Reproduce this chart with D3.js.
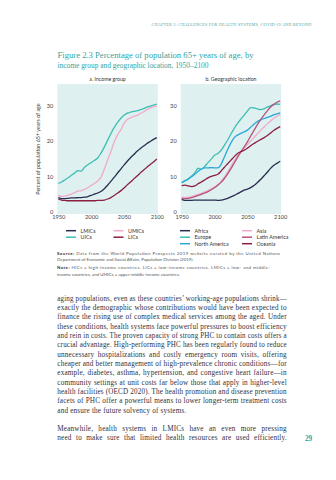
<!DOCTYPE html>
<html>
<head>
<meta charset="utf-8">
<script src="https://cdn.jsdelivr.net/npm/d3@7/dist/d3.min.js"></script>
<style>
  body { margin: 0; background: #fff; }
  svg { display: block; }
</style>
</head>
<body>
<div id="page"></div>
<script>
// values (percent of population aged 65+)
const years = [1950, 1955, 1960, 1965, 1970, 1975, 1980, 1985, 1990, 1995, 2000, 2005, 2010, 2015, 2020,
  2025, 2030, 2035, 2040, 2045, 2050, 2055, 2060, 2065, 2070, 2075, 2080, 2085, 2090, 2095, 2100]

const lmics = [4.0, 3.7, 3.7, 3.8, 3.9, 3.9, 4.0, 4.0, 4.1, 4.3, 4.6, 5.0, 5.3, 5.7, 6.5,
  7.5, 8.6, 9.7, 10.9, 12.0, 13.2, 14.3, 15.3, 16.2, 17.1, 17.9, 18.6, 19.3, 19.9, 20.5, 21.0]
const uics = [8.0, 8.4, 9.0, 9.6, 10.3, 11.0, 11.6, 11.5, 12.6, 13.3, 13.9, 14.5, 15.2, 16.6, 18.3,
  20.2, 22.1, 23.8, 25.2, 26.4, 27.3, 27.9, 28.2, 28.4, 28.6, 28.9, 29.2, 29.6, 29.9, 30.2, 30.5]
const umics = [4.7, 4.3, 4.4, 4.7, 5.0, 5.4, 5.8, 6.0, 6.3, 6.8, 7.4, 8.0, 8.7, 9.8, 12.0,
  14.6, 17.0, 19.7, 21.7, 23.1, 25.0, 26.1, 26.6, 27.0, 27.3, 27.8, 28.3, 28.9, 29.4, 29.7, 30.0]
const lics = [3.6, 3.3, 3.2, 3.1, 3.1, 3.1, 3.1, 3.1, 3.1, 3.1, 3.1, 3.1, 3.2, 3.2, 3.3,
  3.6, 4.0, 4.6, 5.2, 5.9, 6.7, 7.6, 8.4, 9.3, 10.1, 11.0, 11.8, 12.6, 13.4, 14.1, 14.9]

const africa = [3.5, 3.2, 3.2, 3.2, 3.3, 3.3, 3.3, 3.3, 3.3, 3.3, 3.3, 3.2, 3.3, 3.5, 3.8,
  4.2, 4.6, 5.1, 5.6, 6.1, 6.4, 6.8, 7.4, 8.2, 9.1, 10.1, 11.1, 12.2, 13.1, 13.7, 14.3]
const europe = [8.2, 8.7, 9.3, 10.1, 11.0, 12.3, 12.0, 12.8, 13.9, 14.9, 16.0, 16.5, 17.4, 18.8, 20.3,
  22.0, 23.6, 25.0, 26.2, 27.3, 28.5, 29.5, 29.4, 29.1, 28.9, 29.1, 29.6, 30.0, 30.3, 30.5, 30.4]
const northAmerica = [8.2, 8.8, 9.2, 9.9, 10.6, 11.4, 12.1, 12.4, 12.4, 12.5, 12.4, 12.4, 13.4, 15.5, 17.6,
  19.5, 21.0, 21.7, 22.2, 22.6, 23.1, 23.9, 24.8, 25.5, 26.0, 26.4, 26.7, 27.0, 27.4, 27.7, 28.0]
const asia = [4.2, 4.0, 4.1, 4.3, 4.6, 4.9, 5.2, 5.6, 6.0, 6.5, 7.0, 7.7, 8.6, 9.8, 11.2,
  12.8, 14.4, 15.8, 17.0, 18.0, 19.0, 20.0, 21.0, 22.0, 23.0, 23.9, 24.8, 25.6, 26.4, 27.0, 27.6]
const latinAmerica = [3.8, 3.7, 3.8, 4.0, 4.3, 4.6, 4.9, 5.3, 5.7, 6.2, 6.8, 7.5, 8.3, 9.4, 10.7,
  12.2, 13.8, 15.4, 16.9, 18.3, 19.8, 21.4, 23.0, 24.6, 26.0, 27.3, 28.5, 29.6, 30.4, 31.0, 31.4]
const oceania = [7.4, 7.5, 7.3, 7.1, 7.3, 7.9, 8.4, 9.0, 9.6, 10.0, 10.3, 10.6, 11.5, 12.6, 13.6,
  14.6, 15.6, 16.5, 17.0, 17.4, 18.0, 18.7, 19.3, 19.9, 20.4, 20.9, 21.5, 22.2, 23.0, 23.6, 24.1]

const yTicks = [0, 10, 20, 30]
const xTicks = [1950, 2000, 2050, 2100]

const col = {
  navy: '#2a2d4f', teal: '#3dbfb3', blue: '#2ca8d8',
  pink: '#f2a9cb', mauve: '#b4547f', maroon: '#8a1f42'
}

const incomeSeries = [
  { name: 'LMICs', values: lmics, color: col.navy },
  { name: 'UICs', values: uics, color: col.teal },
  { name: 'UMICs', values: umics, color: col.pink },
  { name: 'LICs', values: lics, color: col.maroon },
]
const geoSeries = [
  { name: 'Africa', values: africa, color: col.navy },
  { name: 'Europe', values: europe, color: col.teal },
  { name: 'North America', values: northAmerica, color: col.blue },
  { name: 'Asia', values: asia, color: col.pink },
  { name: 'Latin America', values: latinAmerica, color: col.mauve },
  { name: 'Oceania', values: oceania, color: col.maroon },
]

const bodyLines = [
  'aging populations, even as these countries\u2019 working-age populations shrink\u2014',
  'exactly the demographic whose contributions would have been expected to',
  'finance the rising use of complex medical services among the aged. Under',
  'these conditions, health systems face powerful pressures to boost efficiency',
  'and rein in costs. The proven capacity of strong PHC to contain costs offers a',
  'crucial advantage. High-performing PHC has been regularly found to reduce',
  'unnecessary hospitalizations and costly emergency room visits, offering',
  'cheaper and better management of high-prevalence chronic conditions\u2014for',
  'example, diabetes, asthma, hypertension, and congestive heart failure\u2014in',
  'community settings at unit costs far below those that apply in higher-level',
  'health facilities (OECD 2020). The health promotion and disease prevention',
  'facets of PHC offer a powerful means to lower longer-term treatment costs',
  'and ensure the future solvency of systems.',
]
const bodyLines2 = [
  'Meanwhile, health systems in LMICs have an even more pressing',
  'need to make sure that limited health resources are used efficiently.',
]

const W = 336, H = 480
const sans = 'Lato, "Noto Sans", sans-serif'
const serif = '"Liberation Serif", "DejaVu Serif", serif'

const svg = d3.select('#page').append('svg')
  .attr('width', W).attr('height', H)

svg.append('rect').attr('width', W).attr('height', H).attr('fill', '#fff')

// stretch a line of text to a given width (justified look)
function fitText(sel, width) {
  const natural = sel.node().getComputedTextLength()
  sel.attr('textLength', width)
    .attr('lengthAdjust', natural > width ? 'spacingAndGlyphs' : 'spacing')
  return sel
}

// justify by widening the word gaps, like the printed page
function justify(sel, width) {
  const natural = sel.node().getComputedTextLength()
  const gaps = (sel.text().match(/ /g) || []).length
  if (natural > width || !gaps) return fitText(sel, width)
  sel.attr('word-spacing', (width - natural) / gaps)
  return sel
}

// running header
fitText(svg.append('text')
  .attr('x', 151.5).attr('y', 26)
  .attr('font-family', serif).attr('font-size', 4.3)
  .attr('fill', '#4fa6a6').attr('letter-spacing', 0.2)
  .text('CHAPTER 2: CHALLENGES FOR HEALTH SYSTEMS, COVID-19 AND BEYOND'), 160)

// figure title
fitText(svg.append('text')
  .attr('x', 57.5).attr('y', 57.5)
  .attr('font-family', serif).attr('font-size', 8.8)
  .attr('fill', '#30a5a2')
  .text('Figure 2.3 Percentage of population 65+ years of age, by'), 196)
fitText(svg.append('text')
  .attr('x', 57.5).attr('y', 68)
  .attr('font-family', serif).attr('font-size', 8.8)
  .attr('fill', '#30a5a2')
  .text('income group and geographic location, 1950\u20132100'), 151)

const y = d3.scaleLinear().domain([0, 36]).range([211.7, 84.6])

function panel(opts) {
  const x = d3.scaleLinear().domain([1950, 2100]).range([opts.left + 1, opts.right - 1])
  const g = svg.append('g')

  g.append('rect')
    .attr('x', opts.left).attr('y', 84)
    .attr('width', opts.right - opts.left).attr('height', 130)
    .attr('fill', '#dff0f0')

  g.append('text')
    .attr('x', (opts.left + opts.right) / 2).attr('y', 81)
    .attr('text-anchor', 'middle')
    .attr('font-family', sans).attr('font-size', 5.2).attr('fill', '#333')
    .text(opts.title)

  const yAxis = d3.axisLeft(y).tickValues(yTicks).tickSize(0).tickPadding(4)
  const xAxis = d3.axisBottom(x).tickValues(xTicks).tickSize(0).tickPadding(0)
    .tickFormat(d3.format('d'))

  const ya = g.append('g').attr('transform', `translate(${opts.left}, 0)`).call(yAxis)
  const xa = g.append('g').attr('transform', `translate(0, 214.5)`).call(xAxis)
  for (const a of [ya, xa]) {
    a.select('.domain').remove()
    a.selectAll('text')
      .attr('font-family', sans).attr('font-size', 5.7).attr('fill', '#444')
  }

  const line = d3.line()
    .x((d, i) => x(years[i]))
    .y(d => y(d))
    .curve(d3.curveMonotoneX)

  g.selectAll('path.series')
    .data(opts.series)
    .join('path')
    .attr('class', 'series')
    .attr('d', d => line(d.values))
    .attr('fill', 'none')
    .attr('stroke', d => d.color)
    .attr('stroke-width', 1.3)
    .attr('stroke-linejoin', 'round')

  // legend, two columns
  const rows = Math.ceil(opts.series.length / 2)
  opts.series.forEach((s, i) => {
    const c = Math.floor(i / rows), r = i % rows
    const lx = opts.legendX[c], ly = 230.7 + r * 6.5
    g.append('line')
      .attr('x1', lx).attr('x2', lx + 10).attr('y1', ly).attr('y2', ly)
      .attr('stroke', s.color).attr('stroke-width', 1.5)
    g.append('text')
      .attr('x', lx + 14.5).attr('y', ly).attr('dy', '0.35em')
      .attr('font-family', sans).attr('font-size', 5.3).attr('fill', '#333')
      .text(s.name)
  })
}

panel({ left: 57.3, right: 157.8, title: 'a. Income group', series: incomeSeries, legendX: [66, 113.5] })
panel({ left: 180.7, right: 281.2, title: 'b. Geographic location', series: geoSeries, legendX: [180, 242] })

// y axis title
svg.append('text')
  .attr('transform', 'translate(39.5, 149) rotate(-90)')
  .attr('text-anchor', 'middle')
  .attr('font-family', sans).attr('font-size', 5.4).attr('fill', '#444')
  .text('Percent of population 65+ years of age')

// source and note
const notes = [
  { y: 254.5, bold: 'Source:', rest: ' Data from the World Population Prospects 2019 website curated by the United Nations', w: 223 },
  { y: 260.8, bold: '', rest: 'Department of Economic and Social Affairs, Population Division (2019).' },
  { y: 269.3, bold: 'Note:', rest: ' HICs = high-income countries, LICs = low-income countries, LMICs = low- and middle-', w: 213 },
  { y: 275.6, bold: '', rest: 'income countries, and UMICs = upper-middle-income countries.' },
]
notes.forEach(n => {
  const t = svg.append('text')
    .attr('x', 57).attr('y', n.y)
    .attr('font-family', sans).attr('font-size', 4.4).attr('fill', '#555')
  if (n.bold) t.append('tspan').attr('font-weight', 700).attr('fill', '#333').text(n.bold)
  t.append('tspan').text(n.rest)
  if (n.w) fitText(t, n.w)
})

// body text; justifyLast for paragraphs whose last line runs full width
function paragraph(lines, top, justifyLast) {
  lines.forEach((s, i) => {
    const t = svg.append('text')
      .attr('x', 57.3).attr('y', top + i * 9.35)
      .attr('font-family', serif).attr('font-size', 7.2).attr('fill', '#30303c')
      .attr('letter-spacing', 0.17)
      .text(s)
    if (i < lines.length - 1 || justifyLast) justify(t, 229.5)
  })
}
paragraph(bodyLines, 300.5, false)
paragraph(bodyLines2, 430.5, true)

svg.append('text')
  .attr('x', 305).attr('y', 440.5)
  .attr('font-family', serif).attr('font-size', 7.2).attr('font-weight', 700)
  .attr('fill', '#30a5a2')
  .text('29')
</script>
</body>
</html>
